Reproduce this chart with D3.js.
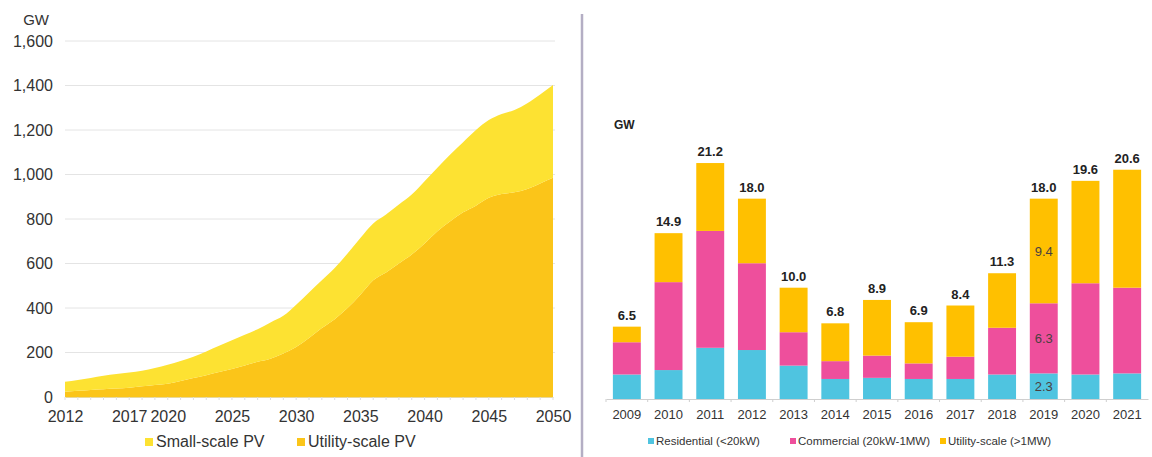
<!DOCTYPE html>
<html>
<head>
<meta charset="utf-8">
<script src="https://cdn.jsdelivr.net/npm/d3@7"></script>
<style>
  body { margin: 0; background: #fff; }
  svg { display: block; font-family: Arial, "Liberation Sans", sans-serif; }
</style>
</head>
<body>
<svg id="drawing_region"></svg>
<script>
// left chart: cumulative PV capacity (GW)
const years = d3.range(2012, 2051);
const utilityPV = [24, 28, 32, 35, 38, 42, 48, 54, 60, 72, 85, 98, 112, 126, 142, 158, 172, 195, 225, 265,
  310, 350, 400, 460, 525, 560, 600, 640, 690, 745, 790, 830, 860, 895, 912, 920, 935, 960, 985];
const smallPV = [44, 48, 53, 60, 65, 68, 70, 76, 85, 90, 96, 107, 118, 129, 138, 147, 163, 170, 190, 205,
  215, 230, 245, 255, 255, 260, 265, 270, 280, 285, 300, 315, 340, 350, 360, 370, 385, 400, 417];
const leftTicksX = [2012, 2017, 2020, 2025, 2030, 2035, 2040, 2045, 2050];
const leftTicksY = [0, 200, 400, 600, 800, 1000, 1200, 1400, 1600];

// right chart: annual installations (GW)
const barYears = ['2009', '2010', '2011', '2012', '2013', '2014', '2015', '2016', '2017', '2018', '2019', '2020', '2021'];
const residential = [2.2, 2.6, 4.6, 4.4, 3.0, 1.8, 1.9, 1.8, 1.8, 2.2, 2.3, 2.2, 2.3];
const commercial  = [2.9, 7.9, 10.5, 7.8, 3.0, 1.6, 2.0, 1.4, 2.0, 4.2, 6.3, 8.2, 7.7];
const utility     = [1.4, 4.4, 6.1, 5.8, 4.0, 3.4, 5.0, 3.7, 4.6, 4.9, 9.4, 9.2, 10.6];
const totals      = [6.5, 14.9, 21.2, 18.0, 10.0, 6.8, 8.9, 6.9, 8.4, 11.3, 18.0, 19.6, 20.6];

const svg = d3.select('#drawing_region')
    .attr('width', 1152)
    .attr('height', 457);

// ---------- left chart ----------
const xL = d3.scaleLinear().domain([2012, 2050]).range([65, 553]);
const yL = d3.scaleLinear().domain([0, 1600]).range([397, 41]);

svg.append('g')
    .selectAll('line')
    .data(leftTicksY.slice(1))
    .join('line')
    .attr('x1', 65).attr('x2', 555)
    .attr('y1', d => yL(d)).attr('y2', d => yL(d))
    .attr('stroke', '#e4e4e4').attr('stroke-width', 1);

const leftRows = years.map((y, i) => ({ year: y, utility: utilityPV[i], small: smallPV[i] }));
const leftStack = d3.stack().keys(['utility', 'small'])(leftRows);
const leftColors = { utility: '#fbc519', small: '#fde232' };

const area = d3.area()
    .curve(d3.curveMonotoneX)
    .x(d => xL(d.data.year))
    .y0(d => yL(d[0]))
    .y1(d => yL(d[1]));

svg.append('g')
    .selectAll('path')
    .data(leftStack)
    .join('path')
    .attr('fill', d => leftColors[d.key])
    .attr('d', area);

const yAxisL = svg.append('g')
    .attr('transform', 'translate(65,0)')
    .call(d3.axisLeft(yL).tickValues(leftTicksY).tickFormat(d3.format(',')).tickSize(0).tickPadding(12));
yAxisL.select('.domain').remove();
yAxisL.selectAll('text').attr('font-size', 16).attr('fill', '#333').attr('font-family', null);

const xAxisL = svg.append('g')
    .attr('transform', 'translate(0,397)')
    .call(d3.axisBottom(xL).tickValues(leftTicksX).tickFormat(d3.format('d')).tickSize(0).tickPadding(14));
xAxisL.select('.domain').attr('stroke', '#e8d89a');
xAxisL.selectAll('text').attr('font-size', 16).attr('fill', '#333').attr('font-family', null);

svg.append('g')
    .selectAll('line')
    .data(years)
    .join('line')
    .attr('x1', d => xL(d)).attr('x2', d => xL(d))
    .attr('y1', 397).attr('y2', 400)
    .attr('stroke', '#ddd');

svg.append('text')
    .attr('x', 49).attr('y', 25)
    .attr('text-anchor', 'end')
    .attr('font-size', 15).attr('fill', '#333')
    .text('GW');

const leftLegend = [
    { label: 'Small-scale PV', color: leftColors.small, x: 145 },
    { label: 'Utility-scale PV', color: leftColors.utility, x: 297 }
];
const ll = svg.append('g').selectAll('g').data(leftLegend).join('g')
    .attr('transform', d => `translate(${d.x},447)`);
ll.append('rect').attr('x', 0).attr('y', -9).attr('width', 8).attr('height', 8).attr('fill', d => d.color);
ll.append('text').attr('x', 11).attr('y', 0).attr('font-size', 16).attr('fill', '#333').text(d => d.label);

// divider
svg.append('line')
    .attr('x1', 582).attr('x2', 582).attr('y1', 14).attr('y2', 457)
    .attr('stroke', '#b4aec4').attr('stroke-width', 2.5);

// ---------- right chart ----------
const xR = d3.scaleBand().domain(barYears).range([606, 1148]).paddingInner(0.33).paddingOuter(0.165);
const yR = d3.scaleLinear().domain([0, 25]).range([399, 399 - 25 * 11.13]);

const barRows = barYears.map((y, i) => ({ year: y, residential: residential[i], commercial: commercial[i], utility: utility[i] }));
const barStack = d3.stack().keys(['residential', 'commercial', 'utility'])(barRows);
const barColors = { residential: '#4fc4e0', commercial: '#ee4f9c', utility: '#ffc000' };

svg.append('g')
    .selectAll('g')
    .data(barStack)
    .join('g')
    .attr('fill', d => barColors[d.key])
    .selectAll('rect')
    .data(d => d)
    .join('rect')
    .attr('x', d => xR(d.data.year))
    .attr('y', d => yR(d[1]))
    .attr('width', xR.bandwidth())
    .attr('height', d => yR(d[0]) - yR(d[1]));

const xAxisR = svg.append('g')
    .attr('transform', 'translate(0,399)')
    .call(d3.axisBottom(xR).tickSize(0).tickPadding(11));
xAxisR.select('.domain').attr('stroke', '#cfcfcf');
xAxisR.selectAll('text').attr('font-size', 13).attr('fill', '#333').attr('font-family', null);

svg.append('g')
    .selectAll('line')
    .data(barYears)
    .join('line')
    .attr('x1', d => xR(d) - xR.step() * 0.165).attr('x2', d => xR(d) - xR.step() * 0.165)
    .attr('y1', 399).attr('y2', 402)
    .attr('stroke', '#cfcfcf');

svg.append('g')
    .selectAll('text')
    .data(barYears)
    .join('text')
    .attr('x', d => xR(d) + xR.bandwidth() / 2)
    .attr('y', (d, i) => yR(totals[i]) - 7)
    .attr('text-anchor', 'middle')
    .attr('font-size', 13).attr('font-weight', 'bold').attr('fill', '#222')
    .text((d, i) => totals[i].toFixed(1));

// segment labels for 2019
const i19 = barYears.indexOf('2019');
const seg19 = barStack.map(s => ({ key: s.key, lo: s[i19][0], hi: s[i19][1] }));
svg.append('g')
    .selectAll('text')
    .data(seg19)
    .join('text')
    .attr('x', xR('2019') + xR.bandwidth() / 2)
    .attr('y', d => yR((d.lo + d.hi) / 2) + 5)
    .attr('text-anchor', 'middle')
    .attr('font-size', 13).attr('fill', '#4a4040')
    .text(d => (d.hi - d.lo).toFixed(1));

svg.append('text')
    .attr('x', 614).attr('y', 129)
    .attr('font-size', 12).attr('font-weight', 'bold').attr('fill', '#222')
    .text('GW');

const rightLegend = [
    { label: 'Residential (<20kW)', color: barColors.residential, x: 648 },
    { label: 'Commercial (20kW-1MW)', color: barColors.commercial, x: 790 },
    { label: 'Utility-scale (>1MW)', color: barColors.utility, x: 940 }
];
const rl = svg.append('g').selectAll('g').data(rightLegend).join('g')
    .attr('transform', d => `translate(${d.x},445)`);
rl.append('rect').attr('x', 0).attr('y', -7).attr('width', 6).attr('height', 6).attr('fill', d => d.color);
rl.append('text').attr('x', 8).attr('y', 0).attr('font-size', 11.5).attr('fill', '#333').text(d => d.label);
</script>
</body>
</html>
